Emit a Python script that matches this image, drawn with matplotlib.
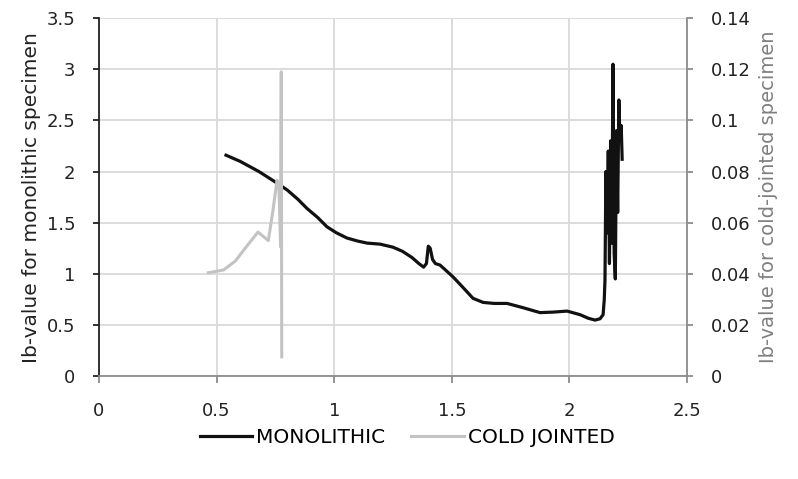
import matplotlib.pyplot as plt
from matplotlib.lines import Line2D

# Monolithic specimen (left axis)
mono_x = [0.54, 0.60, 0.68, 0.748, 0.80, 0.845, 0.884, 0.93, 0.969, 1.01, 1.054,
          1.10, 1.14, 1.195, 1.25, 1.29, 1.33, 1.36, 1.38, 1.392, 1.40, 1.408,
          1.418, 1.43, 1.45, 1.505, 1.55, 1.59, 1.633, 1.68, 1.735, 1.80, 1.875,
          1.93, 1.99, 2.045, 2.08, 2.109, 2.13, 2.143, 2.148, 2.151, 2.155, 2.16,
          2.165, 2.17, 2.175, 2.18, 2.185, 2.19, 2.195, 2.20, 2.205, 2.21, 2.215,
          2.22, 2.224]
mono_y = [2.16, 2.10, 2.00, 1.90, 1.82, 1.73, 1.64, 1.55, 1.46, 1.40, 1.35,
          1.32, 1.30, 1.29, 1.26, 1.22, 1.16, 1.10, 1.065, 1.10, 1.27, 1.25,
          1.14, 1.10, 1.085, 0.97, 0.86, 0.76, 0.72, 0.71, 0.71, 0.67, 0.62,
          0.625, 0.635, 0.60, 0.565, 0.547, 0.56, 0.60, 0.75, 0.94, 2.00, 1.40,
          2.20, 1.10, 2.30, 1.30, 3.05, 1.20, 0.95, 2.40, 1.60, 2.70, 2.30,
          2.45, 2.12]

# Cold jointed specimen (right axis)
cold_x = [0.465, 0.53, 0.58, 0.63, 0.676, 0.70, 0.72, 0.74, 0.757, 0.765, 0.772,
          0.775, 0.777]
cold_y = [0.0404, 0.0415, 0.0450, 0.0510, 0.0563, 0.0545, 0.0530, 0.0650, 0.0766,
          0.0750, 0.0505, 0.1190, 0.0075]

x_ticks = [0, 0.5, 1, 1.5, 2, 2.5]
x_labels = ["0", "0.5", "1", "1.5", "2", "2.5"]
left_ticks = [0, 0.5, 1, 1.5, 2, 2.5, 3, 3.5]
left_labels = ["0", "0.5", "1", "1.5", "2", "2.5", "3", "3.5"]
right_ticks = [0, 0.02, 0.04, 0.06, 0.08, 0.1, 0.12, 0.14]
right_labels = ["0", "0.02", "0.04", "0.06", "0.08", "0.1", "0.12", "0.14"]

plt.rcParams.update({
    "font.family": "DejaVu Sans",
    "font.size": 13,
})

mono_color = "#111111"
cold_color = "#c3c3c3"
axis_gray = "#8c8c8c"

fig = plt.figure(figsize=(7.98, 4.79), dpi=100)
ax = fig.add_axes([0.124, 0.215, 0.737, 0.747])
ax2 = ax.twinx()

ax.plot(mono_x, mono_y, color=mono_color, linewidth=2.3, solid_joinstyle="round")
ax2.plot(cold_x, cold_y, color=cold_color, linewidth=2.2, solid_joinstyle="round")

ax.set_xlim(0, 2.5)
ax.set_ylim(0, 3.5)
ax2.set_ylim(0, 0.14)
ax.set_xticks(x_ticks)
ax.set_xticklabels(x_labels)
ax.set_yticks(left_ticks)
ax.set_yticklabels(left_labels)
ax2.set_yticks(right_ticks)
ax2.set_yticklabels(right_labels)

ax.grid(True, color="#d9d9d9", linewidth=1.3)
ax.set_axisbelow(True)

for a in (ax, ax2):
    a.spines["top"].set_visible(False)
ax.spines["left"].set_color("#222222")
ax.spines["left"].set_linewidth(1.3)
ax.spines["bottom"].set_color(axis_gray)
ax.spines["bottom"].set_linewidth(1.3)
ax.spines["right"].set_visible(False)
ax2.spines["left"].set_visible(False)
ax2.spines["bottom"].set_visible(False)
ax2.spines["right"].set_color(axis_gray)
ax2.spines["right"].set_linewidth(1.3)

ax.tick_params(axis="y", direction="out", length=4, width=1.3, color="#222222",
               labelcolor="#222222", pad=13)
ax.tick_params(axis="x", direction="out", length=5, width=1.3, color=axis_gray,
               labelcolor="#222222", pad=14)
ax2.tick_params(axis="y", direction="out", length=4, width=1.3, color=axis_gray,
                labelcolor="#222222", pad=13)

ax.set_ylabel("Ib-value for monolithic specimen", color="#222222", labelpad=4,
              fontsize=14.5)
ax2.set_ylabel("Ib-value for cold-jointed specimen", color="#7f7f7f", labelpad=6,
               fontsize=14)

handles = [Line2D([], [], color=mono_color, linewidth=2.3),
           Line2D([], [], color=cold_color, linewidth=2.2)]
fig.legend(handles, ["MONOLITHIC", "COLD JOINTED"], loc="center",
           bbox_to_anchor=(0.51, 0.086), ncol=2, frameon=False, fontsize=14.5,
           handlelength=2.6, handletextpad=0.2, columnspacing=1.3)

fig.savefig("out.png", dpi=100)
